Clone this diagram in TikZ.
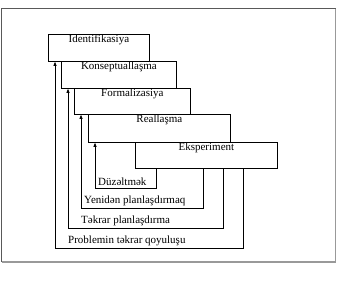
\documentclass[tikz,border=0pt]{standalone}
\usepackage{fontspec}
\setmainfont{Liberation Serif}
\usetikzlibrary{arrows.meta}
\begin{document}
\begin{tikzpicture}[x=1pt,y=-1pt,
  stage/.style={draw=black,line width=0.8pt,fill=white,anchor=north west,inner sep=0pt},
  boxtext/.style={font=\fontsize{11}{12}\selectfont,anchor=north,inner sep=1pt},
  lbl/.style={font=\fontsize{11}{12}\selectfont,anchor=base west,inner sep=0pt},
  arr/.style={draw=black,line width=0.8pt,-{Triangle[length=4pt,width=3pt]}},
  frameline/.style={line width=1.4pt},
  ]
\useasboundingbox (0,0) rectangle (337,281);
\coordinate (fnw) at (1.5,8.5); \coordinate (fne) at (335.5,8.5);
\coordinate (fsw) at (1.5,262); \coordinate (fse) at (335.5,262);
\draw[frameline,draw=gray!70!black] (fsw) -- (fnw) -- (fne);
\draw[frameline,draw=gray!80] (fne) -- (fse) -- (fsw);
% feedback path corners
\coordinate (p1r) at (243,248); \coordinate (p1l) at (55,248);
\coordinate (p2r) at (223,228); \coordinate (p2l) at (68,228);
\coordinate (p3r) at (203,208); \coordinate (p3l) at (81,208);
\coordinate (p4r) at (156,188); \coordinate (p4l) at (95,188);
% stages
\node[stage,minimum width=101pt,minimum height=27pt] (s1) at (48,34) {};
\node[boxtext] (t1) at (s1.north) {Identifikasiya};
\node[stage,minimum width=115pt,minimum height=27pt] (s2) at (61,61) {};
\node[boxtext] (t2) at (s2.north) {Konseptuallaşma};
\node[stage,minimum width=116pt,minimum height=26pt] (s3) at (74,88) {};
\node[boxtext] (t3) at (s3.north) {Formalizasiya};
\node[stage,minimum width=142pt,minimum height=28pt] (s4) at (88,114) {};
\node[boxtext] (t4) at (s4.north) {Reallaşma};
\node[stage,minimum width=142pt,minimum height=26pt] (s5) at (135,142) {};
\node[boxtext] (t5) at (s5.north) {Eksperiment};
% connectors
\draw[arr] (s5.south -| p1r) -- (p1r) -- (p1l) -- (s1.south -| p1l);
\draw[arr] (s5.south -| p2r) -- (p2r) -- (p2l) -- (s2.south -| p2l);
\draw[arr] (s5.south -| p3r) -- (p3r) -- (p3l) -- (s3.south -| p3l);
\draw[arr] (s5.south -| p4r) -- (p4r) -- (p4l) -- (s4.south -| p4l);
% labels
\node[lbl] (l4) at (98,185) {Düzəltmək};
\node[lbl] (l3) at (84,203) {Yenidən planlaşdırmaq};
\node[lbl] (l2) at (81,223) {Təkrar planlaşdırma};
\node[lbl] (l1) at (68,243) {Problemin təkrar qoyuluşu};
\end{tikzpicture}
\end{document}
